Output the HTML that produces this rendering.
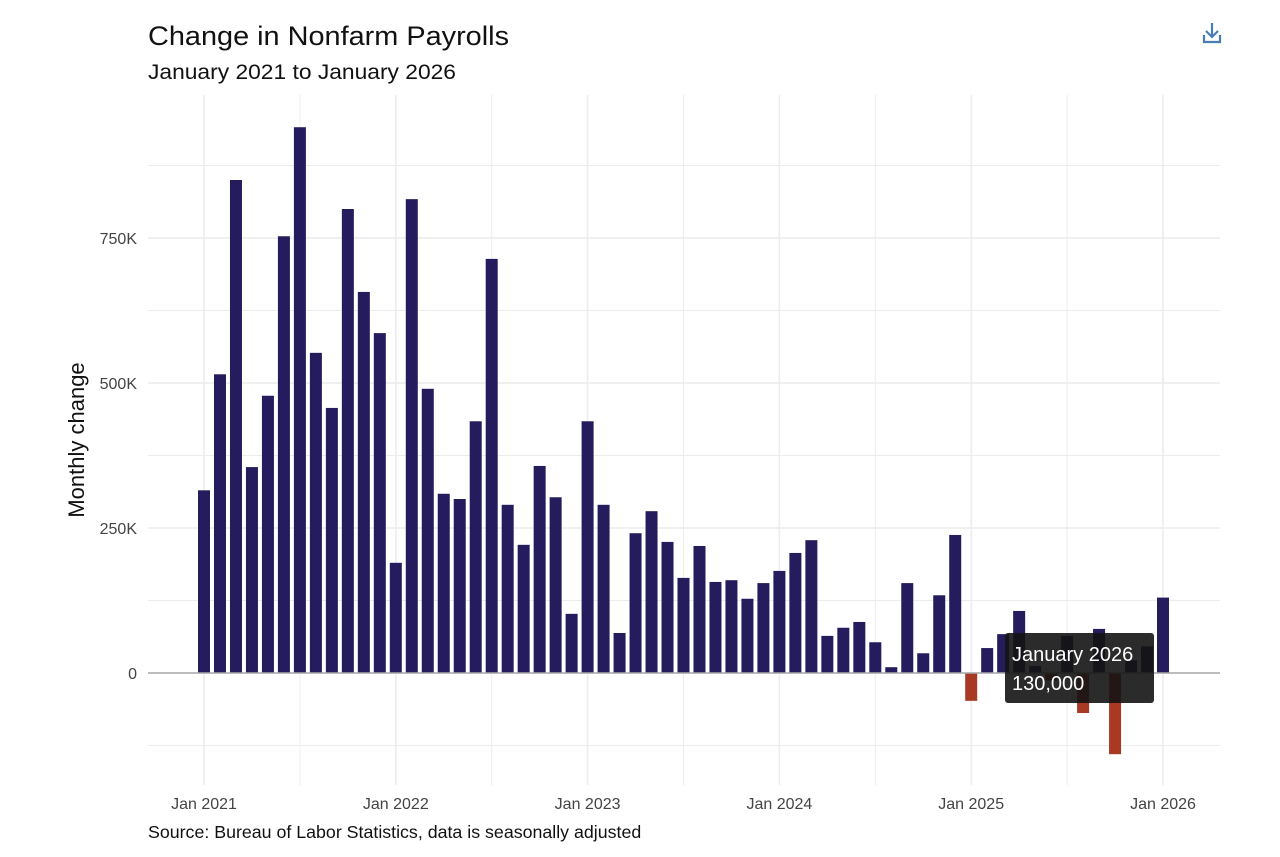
<!DOCTYPE html>
<html><head><meta charset="utf-8">
<style>
body{margin:0;background:#fff;width:1280px;height:857px;overflow:hidden;font-family:"Liberation Sans",sans-serif}
svg{display:block}
</style></head><body>
<svg id="chart" width="1280" height="857">
<text x="148" y="45" font-size="26.5" textLength="361" lengthAdjust="spacingAndGlyphs" fill="#111">Change in Nonfarm Payrolls</text>
<text x="148" y="79" font-size="21.5" textLength="308" lengthAdjust="spacingAndGlyphs" fill="#111">January 2021 to January 2026</text>
<g stroke="#4a7db5" stroke-width="2.2" fill="none">
<path d="M1212 23 V37 M1206 31 L1212 37 L1218 31"/>
<path d="M1204 35 V42 H1220 V35"/>
</g>
<g id="grid"></g>
<g id="bars"></g>
<g id="axes"></g>
<text transform="translate(84,440) rotate(-90)" text-anchor="middle" font-size="22" fill="#111">Monthly change</text>
<text x="148" y="838" font-size="17.8" fill="#111">Source: Bureau of Labor Statistics, data is seasonally adjusted</text>
<g>
<rect x="1005" y="633" width="149" height="70" rx="3" fill="rgba(20,20,20,0.9)"/>
<text x="1012" y="661" font-size="20" fill="#fff">January 2026</text>
<text x="1012" y="690" font-size="20" fill="#fff">130,000</text>
</g>
</svg>
<script>
const values=[315,515,850,355,478,753,941,552,457,800,657,586,
190,817,490,309,300,434,714,290,221,357,303,102,
434,290,69,241,279,226,164,219,157,160,128,155,
176,207,229,64,78,88,53,10,155,34,134,238,
-48,43,67,107,12,-13,64,-69,76,-140,22,46,130];
const startYear=2021;
const yTicks=[0,250,500,750];
const yTickLabels=["0","250K","500K","750K"];
const xTickYears=[2021,2022,2023,2024,2025,2026];
const NS="http://www.w3.org/2000/svg";
const x=i=>204+i*(959/60);
const y=v=>673-v*0.58;
function mk(tag,attrs,parent){const e=document.createElementNS(NS,tag);for(const k in attrs)e.setAttribute(k,attrs[k]);parent.appendChild(e);return e;}
const grid=document.getElementById('grid'),bars=document.getElementById('bars'),axes=document.getElementById('axes');
for(let v=-125;v<=875;v+=125){
  const l=mk('line',{x1:148,x2:1220,y1:y(v),y2:y(v),stroke:'#ececec','stroke-width':v%250===0?1.5:1},grid);
  
  
}
for(let m=0;m<=60;m+=6){
  const l=mk('line',{x1:x(m),x2:x(m),y1:95,y2:785,stroke:'#ececec','stroke-width':m%12===0?1.5:1},grid);
  
  
}
values.forEach((v,i)=>{
  const r=mk('rect',{x:x(i)-6,width:12,y:Math.min(y(v),y(0)),height:Math.abs(y(v)-y(0)),fill:v<0?'#a83a23':'#241c5c'},bars);
  
  
});
const z=mk('line',{x1:148,x2:1220,y1:y(0),y2:y(0),stroke:'#aaa','stroke-width':1.5},axes);


yTicks.forEach((t,i)=>{
  const tx=mk('text',{x:137,y:y(t)+6,'text-anchor':'end','font-size':16,fill:'#444'},axes);
  tx.textContent=yTickLabels[i];
  
  
});
xTickYears.forEach(yr=>{
  const tx=mk('text',{x:x((yr-startYear)*12),y:809,'text-anchor':'middle','font-size':16,fill:'#444'},axes);
  tx.textContent='Jan '+yr;
  
  
});
</script>
</body></html>
